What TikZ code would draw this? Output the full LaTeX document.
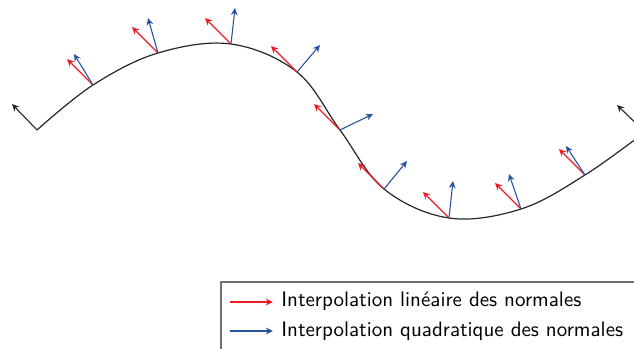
\documentclass[tikz,border=0pt]{standalone}
\usetikzlibrary{arrows.meta}
\definecolor{normred}{HTML}{EC1C24}
\definecolor{normblue}{HTML}{2A52A3}
\definecolor{framegray}{HTML}{707070}

\begin{document}
\begin{tikzpicture}[x=0.5pt, y=-0.5pt,
    curve/.style={line width=0.6pt, black!85},
    normal/.style={-{Stealth[length=3.6pt, width=3.4pt, inset=1.2pt]}, line width=0.55pt},
    linnorm/.style={normal, normred},
    quadnorm/.style={normal, normblue},
    endnorm/.style={normal, black!85},
    legend/.style={font=\sffamily\fontsize{10.5}{12}\selectfont, anchor=west,
                   inner sep=0pt}
]
    \useasboundingbox (0,0) rectangle (634,349);
    \clip (0,0) rectangle (634,349);

    % Points on the curve
    \coordinate (s) at (37,130);
    \coordinate (e) at (645,132);
    \foreach \i/\pt in {1/{93,85}, 2/{158,53}, 3/{231,44}, 4/{297,72}, 5/{340,130},
                        6/{384,189}, 7/{449,218}, 8/{521,209}, 9/{585,175}}
        \coordinate (p\i) at (\pt);

    % Curve
    \draw[curve] plot[smooth, tension=0.6] coordinates
        {(s) (p1) (p2) (p3) (p4) (p5) (p6) (p7) (p8) (p9) (e)};

    % End normals
    \draw[endnorm] (s) -- ++(-25,-26);
    \draw[endnorm] (e) -- ++(-28,-27);

    % Interpolated normals
    \foreach \i/\bx/\by in {1/-19/-31, 2/-10/-35, 3/4/-36, 4/23/-27, 5/33/-16,
                            6/23/-28, 7/4/-37, 8/-12/-35, 9/-19/-29} {
        \draw[linnorm] (p\i) -- ++(-26,-26);
        \draw[quadnorm] (p\i) -- ++(\bx,\by);
    }

    % Legend
    \draw[framegray, line width=0.7pt] (221,282) rectangle (660,380);
    \node[legend] (lintxt) at (281,301) {Interpolation linéaire des normales};
    \node[legend] (quadtxt) at (281,331) {Interpolation quadratique des normales};
    \coordinate (linstart) at (230,302);
    \coordinate (quadstart) at (230,331);
    \draw[linnorm, shorten >=4pt] (linstart) -- (linstart -| lintxt.west);
    \draw[quadnorm, shorten >=4pt] (quadstart) -- (quadstart -| quadtxt.west);
\end{tikzpicture}
\end{document}
